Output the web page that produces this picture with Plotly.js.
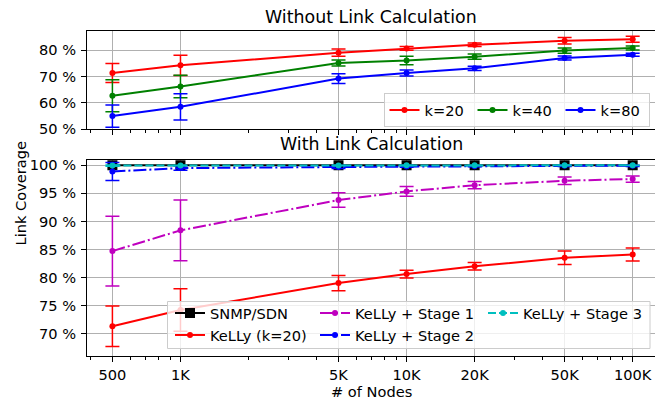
<!DOCTYPE html>
<html>
<head>
<meta charset="utf-8">
<script src="https://cdn.plot.ly/plotly-3.0.1.min.js"></script>
<style>html,body{margin:0;padding:0;background:#fff;}#chart{width:655px;height:403px;}</style>
</head>
<body>
<div id="chart"></div>
<script>
// ---- data ----
var nodes = [500, 1000, 5000, 10000, 20000, 50000, 100000];
var nodeLabels = ['500', '1K', '5K', '10K', '20K', '50K', '100K'];

// Top panel: Without Link Calculation
var k20 = [71.3, 74.2, 79.0, 80.6, 82.0, 83.5, 84.1];
var k20Err = [3.6, 3.8, 1.35, 0.7, 0.65, 1.2, 1.15];
var k40 = [62.7, 66.2, 75.1, 76.0, 77.5, 79.8, 80.8];
var k40Err = [6.1, 4.3, 1.1, 1.6, 1.0, 1.0, 0.75];
var k80 = [55.0, 58.5, 69.2, 71.3, 73.1, 77.0, 78.2];
var k80Err = [4.2, 5.0, 1.85, 1.1, 0.8, 0.75, 0.6];

// Bottom panel: With Link Calculation
var snmp = [100, 100, 100, 100, 100, 100, 100];
var stage1 = [84.7, 88.4, 93.8, 95.35, 96.45, 97.25, 97.55];
var stage1Err = [6.2, 5.4, 1.3, 0.85, 0.65, 0.65, 0.55];
var stage2 = [98.9, 99.5, 99.7, 99.8, 99.85, 99.9, 99.9];
var stage2Err = [1.6, 0.4, 0.25, 0.15, 0.1, 0.1, 0.1];
var stage3 = [99.95, 99.97, 99.98, 99.99, 100, 100, 100];
var stage3Err = [0.1, 0.05, 0.05, 0.03, 0.02, 0.02, 0.02];

var topTicks = [50, 60, 70, 80];
var bottomTicks = [70, 75, 80, 85, 90, 95, 100];
var minorTicks = [400, 600, 700, 800, 900, 2000, 3000, 4000, 6000, 7000, 8000, 9000,
                  30000, 40000, 60000, 70000, 80000, 90000];

// ---- styles ----
var FONT = 'DejaVu Sans, sans-serif';
var FS = 14.6;
var DASH = '8px,3px';
var DASHDOT = '13px,3px,2px,3px';

function series(name, y, err, color, xa, ya, opts) {
  opts = opts || {};
  return {
    type: 'scatter', mode: 'lines+markers', name: name,
    x: nodes, y: y, xaxis: xa, yaxis: ya,
    legend: opts.legend || 'legend',
    line: {color: color, width: 2, dash: opts.dash || 'solid'},
    marker: {color: color, size: opts.msize || 6, symbol: opts.symbol || 'circle'},
    error_y: err ? {type: 'data', array: err, visible: true, color: color, thickness: 1.5, width: 7} : {visible: false}
  };
}

var traces = [
  series('k=20', k20, k20Err, '#ff0000', 'x', 'y', {legend: 'legend'}),
  series('k=40', k40, k40Err, '#008000', 'x', 'y', {legend: 'legend'}),
  series('k=80', k80, k80Err, '#0000ff', 'x', 'y', {legend: 'legend'}),
  series('SNMP/SDN', snmp, null, '#000000', 'x2', 'y2', {legend: 'legend2', symbol: 'square', msize: 10}),
  series('KeLLy (k=20)', k20, k20Err, '#ff0000', 'x2', 'y2', {legend: 'legend2'}),
  series('KeLLy + Stage 1', stage1, stage1Err, '#bf00bf', 'x2', 'y2', {legend: 'legend3', dash: DASHDOT}),
  series('KeLLy + Stage 2', stage2, stage2Err, '#0000ff', 'x2', 'y2', {legend: 'legend3', dash: DASHDOT}),
  series('KeLLy + Stage 3', stage3, stage3Err, '#00bfbf', 'x2', 'y2', {legend: 'legend4', dash: DASH})
];

function clone(o) { return JSON.parse(JSON.stringify(o)); }

var xBase = {
  type: 'log', range: [2.5866, 5.0987],
  tickmode: 'array', tickvals: nodes, ticktext: nodeLabels,
  ticks: 'outside', ticklen: 5, tickwidth: 1, tickcolor: '#000',
  showline: true, linecolor: '#000', linewidth: 1, mirror: true,
  showgrid: true, gridcolor: '#b0b0b0', gridwidth: 1,
  zeroline: false, fixedrange: true,
  tickfont: {family: FONT, size: FS, color: '#000'},
  minor: {tickmode: 'array', tickvals: minorTicks, ticks: 'outside', ticklen: 3, tickwidth: 1, tickcolor: '#000', showgrid: false}
};
var xTop = clone(xBase); xTop.showticklabels = false; xTop.anchor = 'y'; xTop.domain = [0, 1];
var xBot = clone(xBase); xBot.anchor = 'y2'; xBot.domain = [0, 1];

var yBase = {
  tickmode: 'array',
  ticks: 'outside', ticklen: 5, tickwidth: 1, tickcolor: '#000', ticklabelstandoff: 2,
  showline: true, linecolor: '#000', linewidth: 1, mirror: false,
  showgrid: true, gridcolor: '#b0b0b0', gridwidth: 1,
  zeroline: false, fixedrange: true,
  tickfont: {family: FONT, size: FS, color: '#000'}
};
function pct(v) { return v + ' %'; }
var yTop = clone(yBase); yTop.range = [50, 87.2]; yTop.tickvals = topTicks; yTop.ticktext = topTicks.map(pct);
yTop.domain = [0.6975, 1]; yTop.anchor = 'x';
var yBot = clone(yBase); yBot.range = [66.0, 101.0]; yBot.tickvals = bottomTicks; yBot.ticktext = bottomTicks.map(pct);
yBot.domain = [0, 0.604]; yBot.anchor = 'x2';

// plot area geometry (px) used to place legends/annotations in paper coords
var L = 87, T = 31, W = 568, H = 325;
function px(x) { return (x - L) / W; }
function py(y) { return (T + H - y) / H; }

var leg1 = {
  orientation: 'h', bgcolor: 'rgba(255,255,255,0.8)', bordercolor: '#cccccc', borderwidth: 1,
  font: {family: FONT, size: FS, color: '#000'}, itemwidth: 30, entrywidth: 43,
  x: px(649.5), xanchor: 'right', y: py(93), yanchor: 'top'
};
function colLegend(xpix) {
  return {
    orientation: 'v', bgcolor: 'rgba(0,0,0,0)', borderwidth: 0,
    font: {family: FONT, size: FS, color: '#000'}, itemwidth: 30, tracegroupgap: 0,
    x: px(xpix), xanchor: 'left', y: py(297), yanchor: 'top'
  };
}

var layout = {
  width: 655, height: 403,
  margin: {l: L, r: 0, t: T, b: 403 - T - H, pad: 0},
  paper_bgcolor: '#fff', plot_bgcolor: '#fff',
  font: {family: FONT, size: FS, color: '#000'},
  showlegend: true,
  xaxis: xTop, yaxis: yTop, xaxis2: xBot, yaxis2: yBot,
  legend: leg1, legend2: colLegend(170), legend3: colLegend(315), legend4: colLegend(483),
  shapes: [
    {type: 'rect', xref: 'paper', yref: 'paper', layer: 'above',
     x0: px(167.5), x1: px(650), y0: py(348.5), y1: py(301.5),
     fillcolor: 'rgba(255,255,255,0.8)', line: {color: '#cccccc', width: 1}}
  ],
  annotations: [
    {text: 'Without Link Calculation', xref: 'paper', yref: 'paper', x: 0.5, y: py(17),
     xanchor: 'center', yanchor: 'middle', showarrow: false, font: {family: FONT, size: 17.4, color: '#000'}},
    {text: 'With Link Calculation', xref: 'paper', yref: 'paper', x: 0.5, y: py(144),
     xanchor: 'center', yanchor: 'middle', showarrow: false, font: {family: FONT, size: 17.4, color: '#000'}},
    {text: 'Link Coverage', xref: 'paper', yref: 'paper', x: px(20), y: py(193.5), textangle: -90,
     xanchor: 'center', yanchor: 'middle', showarrow: false, font: {family: FONT, size: FS, color: '#000'}},
    {text: '# of Nodes', xref: 'paper', yref: 'paper', x: 0.5, y: py(391),
     xanchor: 'center', yanchor: 'middle', showarrow: false, font: {family: FONT, size: FS, color: '#000'}}
  ]
};

Plotly.newPlot('chart', traces, layout, {staticPlot: true, displayModeBar: false});
</script>
</body>
</html>
